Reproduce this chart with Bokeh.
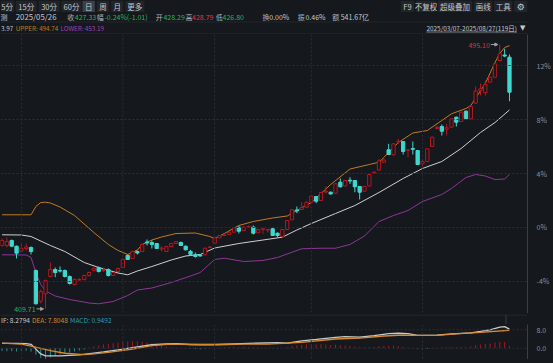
from bokeh.plotting import figure
from bokeh.layouts import column
from bokeh.models import Range1d, FixedTicker, Span, Arrow, NormalHead, LinearAxis, PrintfTickFormatter
from bokeh.core.properties import value
from bokeh.embed import file_html
from bokeh.resources import INLINE

FONT = "Noto Sans CJK SC"
BG = "#15181d"
GRID = "#2c3036"
AXIS = "#3a3e46"
TXT = "#c4c8cf"
LBL = "#aeb2b9"
GREEN = "#2bb55a"
RED = "#e0383f"
UP = "#b8161f"
DOWN = "#3fd8cf"
ORANGE = "#c47a24"
MIDC = "#cfcfcf"
PURPLE = "#8f3797"
DIFC = "#c9c9c9"
DEAC = "#d68a2c"
MACDC = "#2f9fb0"
HUP = "#a8161e"
HDN = "#2b8f8f"

# ---------------- data ----------------
base_close = 436.0                      # 0% reference price
pct_ticks = [-4, 0, 4, 8, 12]
month_starts = [0, 21, 40, 60, 83]      # Apr 1, May 6, Jun 3, Jul 1, Aug 1 (index)

idx = list(range(-4, 102))
opens = [430.18, 430.18, 431.80, 429.96,
         428.34, 429.22, 429.54, 422.11, 412.19, 414.58, 420.17, 422.43, 422.11, 422.11,
         420.17, 417.59, 419.04, 419.20, 420.49, 422.11, 423.08, 422.11, 422.43, 420.49,
         421.79, 423.08, 426.95, 425.99, 428.25, 428.25, 431.32, 431.15, 430.83, 429.05,
         428.25, 429.86, 430.83, 431.15, 429.96, 428.29, 427.20, 427.12, 427.18, 429.54,
         430.93, 432.67, 433.41, 433.74, 434.48, 436.10, 435.03, 436.16, 436.10, 434.29,
         435.35, 435.19, 435.58, 434.16, 433.09, 435.35, 438.49, 441.65, 441.81, 442.56,
         444.17, 446.01, 444.72, 447.47, 447.40, 447.08, 450.63, 449.40, 451.28, 451.18,
         449.24, 447.72, 449.40, 453.60, 454.57, 457.09, 461.10, 459.48, 463.71, 463.78,
         460.93, 461.52, 460.87, 456.57, 457.32, 462.16, 467.98, 468.62, 467.75, 468.40,
         471.63, 470.24, 473.56, 471.11, 476.15, 480.25, 479.60, 482.93, 484.55, 489.94,
         491.72, 491.01]
highs = [432.45, 432.77, 432.12, 430.18,
         430.83, 430.83, 429.86, 422.43, 415.97, 419.20, 424.69, 423.08, 423.40, 422.43,
         420.49, 419.53, 419.69, 420.82, 421.79, 423.08, 423.40, 423.08, 422.76, 421.63,
         423.08, 425.99, 427.28, 428.57, 428.57, 430.83, 432.12, 431.80, 430.99, 429.86,
         430.02, 430.99, 431.64, 431.48, 430.18, 428.79, 427.92, 427.44, 429.54, 430.02,
         432.77, 433.58, 433.74, 434.71, 436.00, 436.32, 436.32, 436.64, 436.64, 435.51,
         435.90, 435.35, 435.90, 434.38, 435.51, 438.42, 441.81, 442.78, 444.17, 444.40,
         446.33, 446.17, 447.47, 449.24, 447.63, 450.21, 451.83, 451.34, 452.25, 451.34,
         449.40, 449.40, 453.28, 454.09, 458.12, 458.61, 463.03, 463.13, 464.65, 463.94,
         461.19, 463.78, 461.03, 458.19, 461.52, 465.39, 468.94, 469.27, 469.49, 471.21,
         471.85, 473.47, 473.79, 475.24, 481.54, 482.51, 483.48, 484.77, 488.97, 495.10,
         493.72, 491.88]
lows = [429.86, 429.54, 429.70, 425.99,
        428.09, 428.57, 427.28, 411.13, 411.45, 409.71, 419.85, 419.95, 421.46, 419.85,
        417.59, 417.26, 418.72, 418.88, 420.17, 421.79, 421.46, 421.63, 420.17, 420.33,
        421.63, 422.92, 425.50, 425.82, 427.28, 428.09, 430.18, 429.22, 429.05, 428.25,
        428.09, 429.70, 430.67, 430.02, 428.57, 426.80, 426.31, 426.63, 426.95, 429.38,
        430.83, 432.61, 433.25, 433.58, 434.38, 434.06, 434.87, 436.00, 433.74, 434.22,
        433.96, 434.38, 433.25, 432.87, 432.77, 435.19, 438.42, 440.62, 441.65, 442.46,
        444.07, 443.85, 444.56, 447.08, 446.66, 446.98, 448.92, 449.24, 450.11, 447.40,
        445.04, 447.63, 449.24, 453.44, 454.41, 456.83, 459.42, 459.25, 463.03, 459.58,
        458.61, 459.58, 456.19, 455.70, 457.16, 462.00, 467.65, 465.71, 465.71, 468.30,
        468.62, 470.08, 470.95, 470.95, 476.05, 478.63, 478.63, 482.83, 484.45, 489.78,
        491.01, 476.79]
closes = [431.80, 431.48, 429.96, 427.70,
          429.31, 429.70, 428.25, 411.35, 415.33, 418.88, 422.43, 421.46, 421.92, 420.17,
          417.91, 419.20, 419.20, 420.49, 421.46, 422.76, 421.79, 422.43, 420.49, 421.46,
          422.76, 425.66, 425.66, 428.25, 427.76, 430.51, 430.99, 430.51, 429.22, 429.38,
          429.86, 430.83, 431.48, 430.18, 428.80, 427.33, 426.63, 426.79, 429.31, 429.70,
          432.67, 433.41, 433.58, 434.48, 435.90, 434.80, 436.10, 436.32, 434.16, 435.35,
          435.58, 435.35, 433.41, 433.41, 435.35, 438.26, 441.72, 441.33, 442.46, 444.17,
          446.11, 444.49, 447.30, 447.72, 446.82, 450.11, 449.15, 451.18, 451.02, 449.15,
          447.40, 449.24, 453.12, 453.86, 457.48, 457.80, 459.58, 463.03, 463.87, 460.55,
          461.10, 461.26, 456.35, 457.32, 461.42, 465.17, 468.30, 467.10, 468.20, 471.11,
          470.01, 473.24, 471.11, 475.08, 480.10, 480.80, 482.19, 484.55, 488.87, 492.10,
          491.39, 479.70]

upper_x = [-4, 2, 3, 4, 5, 6, 8, 11, 15, 18, 20, 22, 24, 25, 27, 29, 32, 36, 39, 40, 42, 45,
           48, 52, 55, 57, 60, 64, 68, 72, 74, 75, 78, 81, 84, 87, 89, 92, 93, 96, 98, 99, 100, 101]
upper_v = [440.10, 440.10, 442.78, 444.07, 444.17, 443.91, 442.62, 439.87, 434.38, 430.51,
           428.57, 427.28, 428.73, 430.51, 431.96, 432.93, 434.06, 434.22, 433.09, 432.45,
           434.06, 436.64, 437.94, 439.07, 439.71, 441.49, 444.07, 449.89, 454.89, 456.35,
           457.09, 458.61, 463.45, 466.52, 467.33, 470.56, 472.72, 474.44, 475.40, 482.51,
           489.29, 492.20, 494.14, 494.74]
mid_x = [-4, 0, 2, 6, 9, 13, 16, 20, 22, 24, 27, 31, 34, 37, 40, 45, 50, 54, 57, 60, 65, 69,
         74, 79, 83, 87, 91, 95, 98, 101]
mid_v = [433.64, 433.58, 433.09, 430.18, 428.25, 424.69, 423.08, 421.30, 420.72, 421.95,
         423.40, 425.50, 426.79, 427.28, 429.38, 430.83, 431.96, 432.87, 435.19, 437.29,
         440.52, 443.10, 447.30, 451.83, 455.06, 457.32, 461.52, 466.68, 469.91, 473.97]
lower_x = [-4, 1, 2, 3, 4, 5, 7, 10, 14, 16, 19, 22, 24, 27, 31, 35, 37, 40, 42, 46, 50, 53,
           56, 58, 62, 65, 68, 71, 74, 77, 80, 83, 87, 89, 92, 94, 96, 98, 100, 101]
lower_v = [427.18, 427.12, 426.31, 421.46, 417.59, 415.49, 413.87, 412.74, 411.61, 411.35,
           412.10, 414.03, 415.81, 416.46, 418.23, 420.33, 421.46, 425.66, 426.08, 425.02,
           425.34, 426.31, 428.02, 429.12, 429.31, 429.31, 430.51, 433.25, 437.94, 439.87,
           441.49, 444.40, 446.66, 448.60, 452.15, 453.12, 452.63, 451.50, 451.66, 453.19]

dif_x = [-4, -1, 1, 2, 3, 4, 5, 8, 12, 15, 17, 20, 24, 27, 30, 32, 35, 40, 44, 47, 53, 55, 58,
         61, 65, 67, 70, 73, 76, 78, 80, 82, 86, 89, 93, 95, 97, 99, 100, 101]
dif_v = [2.1, 2.1, 2.0, 1.7, -0.4, -2.5, -3.3, -3.3, -2.9, -2.1, -1.6, -0.7, 0.6, 1.5, 1.9,
         2.0, 1.6, 1.6, 1.9, 2.1, 2.4, 2.2, 3.2, 3.8, 4.7, 5.0, 4.8, 5.5, 6.3, 6.5, 6.3, 5.6,
         5.7, 6.2, 6.7, 7.3, 8.0, 9.2, 9.4, 8.2794]
dea_x = [-4, 0, 2, 6, 9, 13, 15, 18, 23, 27, 31, 37, 41, 46, 51, 58, 65, 70, 75, 79, 82, 86,
         90, 95, 101]
dea_v = [2.2, 1.8, 0.9, -1.1, -2.2, -2.8, -2.5, -1.8, -0.4, 1.1, 1.8, 1.5, 1.5, 1.8, 1.8,
         2.5, 4.0, 4.4, 5.3, 5.7, 5.6, 5.6, 6.2, 6.9, 7.8048]
macd_hist = [-1.2, -1.3, -1.3, -1.4,
             -1.2, -1.1, -1.5, -2.8, -4.2, -4.6, -4.0, -3.3, -2.7, -2.2,
             -1.8, -1.4, -1.0, -0.6, 0.3, 0.8, 1.2, 1.6, 1.9, 2.2,
             2.5, 2.7, 2.9, 3.0, 3.0, 2.8, 2.5, 2.1, 1.6, 1.1,
             0.7, 0.4, 0.3, 0.2, 0.1, -0.2, -0.4, -0.5, -0.3, -0.1,
             0.2, 0.3, 0.4, 0.5, 0.6, 0.5, 0.5, 0.4, 0.3, 0.2,
             0.1, 0.1, -0.1, -0.2, 0.0, 0.4, 0.9, 1.2, 1.4, 1.6,
             1.7, 1.6, 1.7, 1.6, 1.4, 1.5, 1.3, 1.2, 1.0, 0.7,
             0.4, 0.3, 0.5, 0.6, 0.9, 1.0, 1.0, 1.1, 0.9, 0.6,
             0.3, 0.1, -0.4, -0.5, -0.3, -0.1, 0.2, 0.3, 0.3, 0.4,
             0.4, 0.6, 0.5, 0.8, 1.4, 1.6, 1.8, 2.0, 2.5, 2.8,
             2.7, 0.9492]

tabs_left = ["5分", "15分", "30分", "60分", "日", "周", "月", "更多"]
tabs_right = ["F9", "不复权", "超级叠加", "画线", "工具"]
info_date = "2025/05/26"
info_labels = ["收", "幅", "开", "高", "低", "换", "振", "额"]
info_values = ["427.33", "-0.24%(-1.01)", "428.29", "428.79", "426.80", "0.00%", "0.46%", "541.67亿"]
range_text = "2025/03/07-2025/08/27(119日)"

W = 553
X0, X1 = -4.321, 104.73          # visible index window
Y0, Y1 = 408.22, 498.34          # visible price window


def blank(h, yr=None):
    f = figure(width=W, height=h, x_range=Range1d(0, W), y_range=yr or Range1d(h, 0),
               output_backend="svg", toolbar_location=None,
               x_axis_location=None, y_axis_location=None,
               min_border=0, background_fill_color=BG, border_fill_color=BG,
               outline_line_color=None)
    f.grid.visible = False
    return f


def txt(f, x, y, s, color, size, align="left", font=FONT):
    f.text(x=[x], y=[y], text=[s], text_color=color, text_font_size=size,
           text_align=align, text_baseline="middle", text_font=value(font))


# ---------------- header ----------------
hd = blank(34)
tab_l = [(0, 14), (16, 38), (40, 62), (64, 85), (86, 99), (101, 114), (116, 129), (131, 151)]
tab_r = [(420, 434), (436, 457), (459, 495), (497, 516), (518, 537)]
for k, (a, b) in enumerate(tab_l):
    hd.quad(left=a, right=b, top=0, bottom=11.5,
            fill_color="#3b3f47" if tabs_left[k] == "日" else "#212429", line_color=None)
    txt(hd, (a + b) / 2, 6, tabs_left[k], TXT, "7.5px", "center")
for k, (a, b) in enumerate(tab_r):
    hd.quad(left=a, right=b, top=0, bottom=11.5, fill_color="#212429", line_color=None)
    txt(hd, (a + b) / 2, 6, tabs_right[k], TXT, "7.5px", "center")
hd.quad(left=539, right=553, top=0, bottom=11.5, fill_color="#212429", line_color=None)
txt(hd, 546, 6, "⚙", TXT, "9px", "center", "DejaVu Sans")

txt(hd, 0, 16, "测", TXT, "7px")
txt(hd, 16, 16, info_date, TXT, "7.8px")
lab_x = [70, 101, 163, 194, 226, 275, 312, 348]
val_x = [78, 109, 171, 201, 233, 282, 320, 357]
val_c = [GREEN, GREEN, GREEN, RED, GREEN, TXT, TXT, TXT]
for k in range(len(info_labels)):
    txt(hd, lab_x[k], 16, info_labels[k], LBL, "7px")
    txt(hd, val_x[k], 16, info_values[k], val_c[k], "7px")
hd.segment(x0=[0], y0=[21.5], x1=[W], y1=[21.5], line_color="#23272d", line_width=1)

mid_txt = "%.2f" % mid_v[-1]
txt(hd, 0.5, 27.5, mid_txt[-4:], TXT, "6.4px")
txt(hd, 16, 27.5, "UPPER: %.2f" % upper_v[-1], ORANGE, "6.3px")
txt(hd, 63, 27.5, "LOWER: %.2f" % lower_v[-1], "#a044a8", "6.3px")
txt(hd, 447, 27.5, range_text, TXT, "6.4px")
hd.segment(x0=[447], y0=[31.5], x1=[542], y1=[31.5], line_color=TXT, line_width=0.6)
txt(hd, 548, 27, "▼", TXT, "7px", "center", "DejaVu Sans")
hd.segment(x0=[0], y0=[33.5], x1=[W], y1=[33.5], line_color="#2a2e34", line_width=1)

# ---------------- main candle chart ----------------
p = figure(width=W, height=279, x_range=Range1d(X0, X1), y_range=Range1d(Y0, Y1),
           output_backend="svg", toolbar_location=None,
           x_axis_location=None, y_axis_location=None,
           min_border_left=0, min_border_top=0, min_border_bottom=0, min_border_right=23,
           background_fill_color=BG, border_fill_color=BG, outline_line_color=None)
p.grid.visible = False
pct_lo = (Y0 / base_close - 1) * 100
pct_hi = (Y1 / base_close - 1) * 100
p.extra_y_ranges = {"pct": Range1d(pct_lo, pct_hi)}
ax = LinearAxis(y_range_name="pct", ticker=FixedTicker(ticks=pct_ticks),
                formatter=PrintfTickFormatter(format="%d%%"))
ax.axis_line_color = AXIS
ax.major_tick_line_color = None
ax.minor_tick_line_color = None
ax.major_label_text_color = "#8c9099"
ax.major_label_text_font = FONT
ax.major_label_text_font_size = "7px"
ax.major_label_standoff = 3
p.add_layout(ax, "right")

for t in pct_ticks:
    p.add_layout(Span(location=base_close * (1 + t / 100), dimension="width",
                      line_color=GRID, line_dash="2 2", line_width=1))
for m in month_starts:
    p.add_layout(Span(location=m, dimension="height", line_color=GRID,
                      line_dash="2 2", line_width=1))

p.line(upper_x, upper_v, line_color=ORANGE, line_width=1)
p.line(mid_x, mid_v, line_color=MIDC, line_width=1)
p.line(lower_x, lower_v, line_color=PURPLE, line_width=1)

inc = [c >= o for o, c in zip(opens, closes)]
cols = [UP if u else DOWN for u in inc]
fills = [BG if u else DOWN for u in inc]
tops = [max(o, c) for o, c in zip(opens, closes)]
bots = [min(o, c) for o, c in zip(opens, closes)]
p.segment(x0=idx, y0=lows, x1=idx, y1=highs, line_color=cols, line_width=1)
p.vbar(x=idx, width=0.68, top=tops, bottom=bots, fill_color=fills, line_color=cols,
       line_width=1)

# high / low markers
hi_i = max(range(len(highs)), key=lambda k: highs[k])
lo_i = min(range(len(lows)), key=lambda k: lows[k])
step = 1 / 4.86   # one pixel in index units
for k, col in ((hi_i, "#d8393f"), (lo_i, GREEN)):
    yv = highs[k] if k == hi_i else lows[k]
    p.add_layout(Arrow(end=NormalHead(size=3, line_color="#a0a0a0", fill_color="#a0a0a0"),
                       x_start=idx[k] - 9 * step, y_start=yv, x_end=idx[k] - 2 * step, y_end=yv,
                       line_color="#a0a0a0", line_width=1))
    p.text(x=[idx[k]], y=[yv], text=["%.2f" % yv], text_color=col, text_font_size="7px",
           text_align="right", text_baseline="middle", text_font=value(FONT), x_offset=-10)

# ---------------- MACD header ----------------
mh = blank(11)
mh.segment(x0=[0], y0=[0.5], x1=[W], y1=[0.5], line_color="#2a2e34")
mh.segment(x0=[0], y0=[10.5], x1=[530], y1=[10.5], line_color="#2a2e34")
mh.segment(x0=[530.5], y0=[0], x1=[530.5], y1=[11], line_color=AXIS)
txt(mh, 0.5, 5.5, "IF: %.4f" % dif_v[-1], TXT, "6.6px")
txt(mh, 33, 5.5, "DEA: %.4f" % dea_v[-1], DEAC, "6.6px")
txt(mh, 73, 5.5, "MACD: %.4f" % macd_hist[-1], MACDC, "6.6px")

# ---------------- MACD panel ----------------
q = figure(width=W, height=35, x_range=p.x_range, y_range=Range1d(-4.91, 10.30),
           output_backend="svg", toolbar_location=None,
           x_axis_location=None, y_axis_location="right",
           min_border_left=0, min_border_top=0, min_border_bottom=0, min_border_right=23,
           background_fill_color=BG, border_fill_color=BG, outline_line_color=None)
q.grid.visible = False
q.yaxis.ticker = FixedTicker(ticks=[0, 8])
q.yaxis.formatter = PrintfTickFormatter(format="%.1f")
q.yaxis.axis_line_color = AXIS
q.yaxis.major_tick_line_color = None
q.yaxis.minor_tick_line_color = None
q.yaxis.major_label_text_color = "#8c9099"
q.yaxis.major_label_text_font = FONT
q.yaxis.major_label_text_font_size = "7px"
q.yaxis.major_label_standoff = 3
for t in [0, 8]:
    q.add_layout(Span(location=t, dimension="width", line_color=GRID, line_dash="2 2"))
for m in month_starts:
    q.add_layout(Span(location=m, dimension="height", line_color=GRID, line_dash="2 2"))
hcols = [HUP if v >= 0 else HDN for v in macd_hist]
q.segment(x0=idx, y0=[0] * len(idx), x1=idx, y1=macd_hist, line_color=hcols, line_width=1)
q.line(dif_x, dif_v, line_color=DIFC, line_width=1.3)
q.line(dea_x, dea_v, line_color=DEAC, line_width=1.3)

# ---------------- bottom strip ----------------
bt = blank(4)
bt.segment(x0=[0], y0=[0.5], x1=[530], y1=[0.5], line_color="#2a2e34")
bt.segment(x0=[530.5], y0=[0], x1=[530.5], y1=[4], line_color=AXIS)

layout = column(hd, p, mh, q, bt, spacing=0)
html = file_html(layout, INLINE, title="K-line")
html = html.replace("</head>", "<style>html,body{margin:0;padding:0;background:%s;overflow:hidden}</style></head>" % BG, 1)
open("out.html", "w").write(html)
